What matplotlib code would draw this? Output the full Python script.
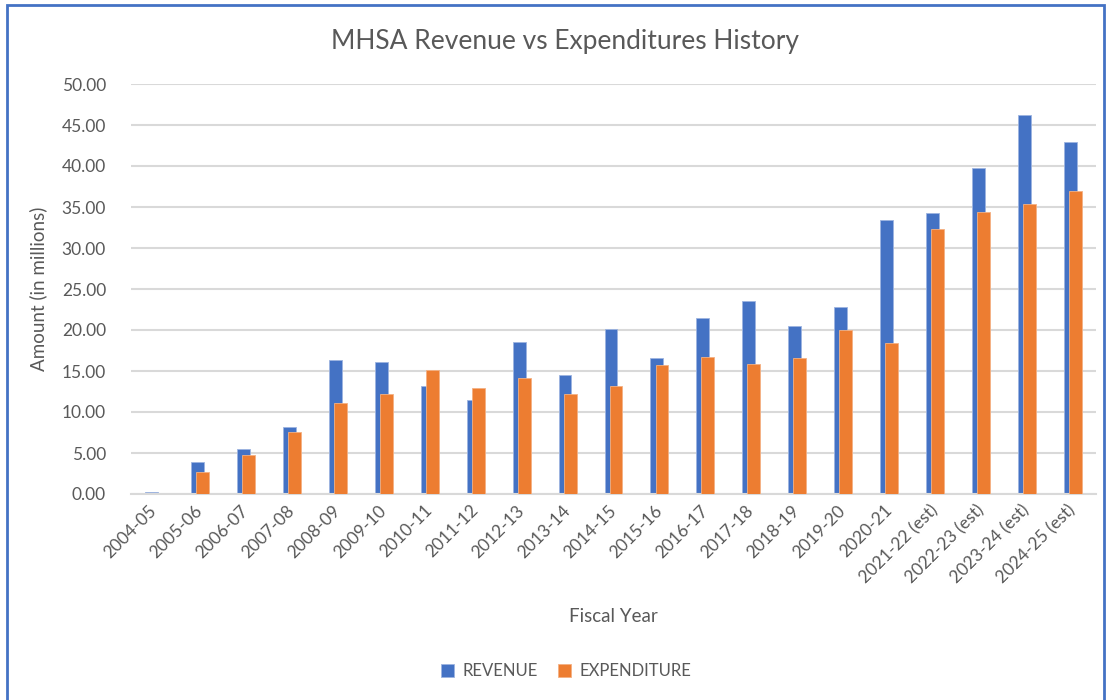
import matplotlib
matplotlib.use("Agg")
import matplotlib.pyplot as plt
import numpy as np
from matplotlib.patches import Rectangle

categories = ["2004-05", "2005-06", "2006-07", "2007-08", "2008-09", "2009-10",
              "2010-11", "2011-12", "2012-13", "2013-14", "2014-15", "2015-16",
              "2016-17", "2017-18", "2018-19", "2019-20", "2020-21",
              "2021-22 (est)", "2022-23 (est)", "2023-24 (est)", "2024-25 (est)"]
revenue = [0.25, 3.86, 5.49, 8.17, 16.34, 16.10, 13.13, 11.42, 18.57, 14.47, 20.16,
           16.58, 21.42, 23.50, 20.53, 22.77, 33.40, 34.27, 39.70, 46.20, 42.90]
expenditure = [0.0, 2.72, 4.72, 7.56, 11.14, 12.15, 15.12, 12.89, 14.10, 12.24, 13.13,
               15.69, 16.67, 15.80, 16.58, 20.04, 18.40, 32.30, 34.40, 35.37, 37.00]

BLUE = "#4472C4"
ORANGE = "#ED7D31"
TXT = "#595959"

plt.rcParams['font.family'] = ['Lato', 'DejaVu Sans']

fig = plt.figure(figsize=(11.08, 7.0), dpi=100)
ax = fig.add_axes([131/1108, 1-494/700, 965/1108, 410/700])

x = np.arange(len(categories))
w = 0.28
ax.bar(x - 0.055, revenue, width=w, color=BLUE, edgecolor="#9DB4E0", linewidth=0.6,
       label="REVENUE", zorder=2)
ax.bar(x + 0.055, expenditure, width=w, color=ORANGE, edgecolor="#F4B183", linewidth=0.6,
       label="EXPENDITURE", zorder=3)

ax.set_xlim(-0.5, len(categories) - 0.5)
ax.set_ylim(0, 50)
ax.set_yticks(np.arange(0, 50.01, 5))
ax.set_yticklabels([f"{v:.2f}" for v in np.arange(0, 50.01, 5)], color=TXT, fontsize=12.5)
ax.set_xticks(x)
ax.set_xticklabels(categories, rotation=45, ha="right", va="center",
                   rotation_mode="anchor", color=TXT, fontsize=12.5)
ax.tick_params(axis="both", length=0)
ax.tick_params(axis="x", pad=10)
ax.tick_params(axis="y", pad=18)
ax.grid(axis="y", color="#D9D9D9", linewidth=1.5, zorder=0)
ax.set_axisbelow(True)
for s in ["top", "right", "left"]:
    ax.spines[s].set_visible(False)
ax.spines["bottom"].set_color("#D9D9D9")
ax.spines["bottom"].set_linewidth(1.5)

ax.set_ylabel("Amount (in millions)", color=TXT, fontsize=13.5)
ax.yaxis.set_label_coords(-84/965, 0.5)
fig.text(613/1108, 1-616/700, "Fiscal Year", color=TXT, fontsize=13.5,
         ha="center", va="center")
fig.text(565/1108, 1-42/700, "MHSA Revenue vs Expenditures History", color=TXT,
         fontsize=19, ha="center", va="center", fontweight="normal")

leg = fig.legend(loc="center", bbox_to_anchor=(566/1108, 1-671/700), ncol=2,
                 frameon=False, fontsize=12, handlelength=0.8, handleheight=0.8,
                 columnspacing=1.2, handletextpad=0.5)
for t in leg.get_texts():
    t.set_color(TXT)

fig.patches.append(Rectangle((7/1108, -0.01), (1104-7)/1108, 1.01 - 5/700,
                             transform=fig.transFigure, fill=False,
                             edgecolor=BLUE, linewidth=2, clip_on=False))

fig.savefig("out.png", dpi=100, facecolor="white")
